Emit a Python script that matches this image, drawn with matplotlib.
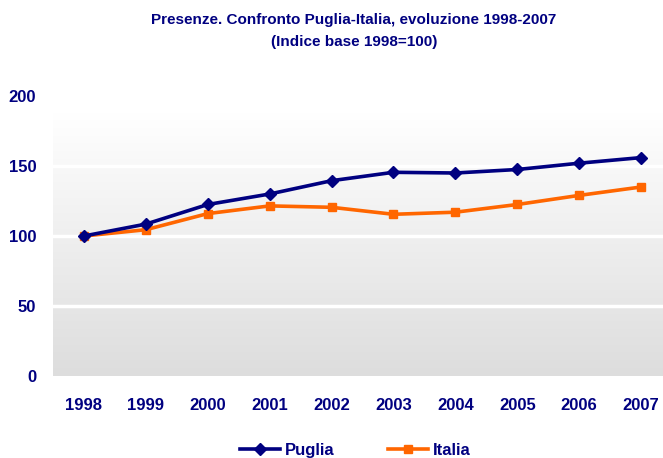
import numpy as np
import matplotlib
matplotlib.use("Agg")
import matplotlib.pyplot as plt
from matplotlib.colors import LinearSegmentedColormap

years = ["1998", "1999", "2000", "2001", "2002", "2003", "2004", "2005", "2006", "2007"]
puglia = [100, 108.5, 122.5, 130, 139.5, 145.5, 145, 147.5, 152, 156]
italia = [100, 104.5, 116, 121.5, 120.5, 115.5, 117, 122.5, 129, 135]
yticks = [0, 50, 100, 150, 200]

navy = "#000080"
orange = "#FF6600"
plt.rcParams['font.family'] = ['Liberation Sans', 'DejaVu Sans']

fig = plt.figure(figsize=(6.63, 4.58), dpi=100)
ax = fig.add_axes([53/663, 82/458, 619/663, 280/458])
x = np.arange(len(years))
ax.set_xlim(-0.5, len(years) - 0.5)
ax.set_ylim(0, 200)

# gradient background
grad = np.linspace(0, 1, 256).reshape(-1, 1)
cmap = LinearSegmentedColormap.from_list("g", ["#dddddd", "#ffffff"])
ax.imshow(grad, extent=[-0.5, len(years) - 0.5, 0, 188], origin="lower",
          aspect="auto", cmap=cmap, zorder=0)

for v in yticks[1:]:
    ax.axhline(v, color="white", lw=2.5, zorder=1)

ax.plot(x, puglia, color=navy, lw=2.6, marker="D", ms=6.5, zorder=4, label="Puglia")
ax.plot(x, italia, color=orange, lw=2.6, marker="s", ms=5.5, zorder=3, label="Italia")

for s in ax.spines.values():
    s.set_visible(False)
ax.set_xticks(x)
ax.set_xticklabels(years, fontweight="bold")
ax.set_yticks(yticks)
ax.set_yticklabels([str(v) for v in yticks], fontweight="bold")
ax.tick_params(length=0, labelsize=12, labelcolor=navy)
ax.tick_params(axis="x", pad=16)
ax.tick_params(axis="y", pad=12)

fig.text(0.534, 0.972, "Presenze. Confronto Puglia-Italia, evoluzione 1998-2007\n(Indice base 1998=100)",
         ha="center", va="top", fontsize=11, fontweight="bold", color=navy, linespacing=1.75)

leg = fig.legend(loc="center", bbox_to_anchor=(0.536, 0.017), ncol=2, frameon=False,
                 fontsize=12, handlelength=2.4, columnspacing=3.2, handletextpad=0.3)
for t in leg.get_texts():
    t.set_color(navy)
    t.set_fontweight("bold")

fig.savefig("out.png", dpi=100)
